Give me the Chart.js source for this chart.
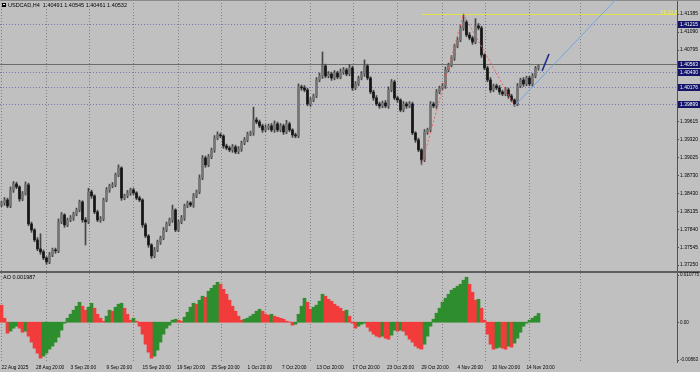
<!DOCTYPE html>
<html>
<head>
<meta charset="utf-8">
<script src="https://cdn.jsdelivr.net/npm/chart.js@4.4.0/dist/chart.umd.min.js"></script>
<style>
  html, body { margin: 0; padding: 0; background: #c0c0c0; }
  #wrap { position: relative; width: 700px; height: 372px; overflow: hidden; }
  #price { position: absolute; left: 0; top: 0; }
  #ao { position: absolute; left: 0; top: 271px; }
</style>
</head>
<body>
<div id="wrap">
  <canvas id="price" width="700" height="271"></canvas>
  <canvas id="ao" width="700" height="101"></canvas>
</div>
<script>
const SYMBOL = "USDCAD,H4";
const PIP = 0.0001;

// H4 closes, one per bar (open = previous close)
const firstOpen = 1.38240;
const closes = [
  1.38273, 1.38322, 1.38223, 1.38487, 1.38585, 1.38536, 1.38339, 1.38421, 1.38569, 1.37927,
  1.37828, 1.37663, 1.37515, 1.37466, 1.37367, 1.37301, 1.37417, 1.37499, 1.37483, 1.37960,
  1.38075, 1.37911, 1.37993, 1.38025, 1.38091, 1.38157, 1.38289, 1.37993, 1.37960, 1.38454,
  1.38388, 1.38124, 1.37993, 1.38009, 1.38322, 1.38487, 1.38552, 1.38569, 1.38734, 1.38849,
  1.38355, 1.38388, 1.38438, 1.38487, 1.38438, 1.38355, 1.38322, 1.37911, 1.37729, 1.37581,
  1.37400, 1.37499, 1.37630, 1.37696, 1.37828, 1.37927, 1.37993, 1.38157, 1.37828, 1.37960,
  1.38025, 1.38223, 1.38273, 1.38240, 1.38388, 1.38454, 1.38684, 1.39014, 1.38899, 1.39031,
  1.39146, 1.39343, 1.39393, 1.39376, 1.39211, 1.39178, 1.39146, 1.39195, 1.39113, 1.39162,
  1.39261, 1.39310, 1.39409, 1.39426, 1.39640, 1.39607, 1.39541, 1.39475, 1.39508, 1.39541,
  1.39475, 1.39574, 1.39475, 1.39541, 1.39442, 1.39574, 1.39475, 1.39393, 1.39376, 1.40183,
  1.40167, 1.40134, 1.39903, 1.39969, 1.40035, 1.40298, 1.40364, 1.40529, 1.40364, 1.40397,
  1.40331, 1.40413, 1.40347, 1.40430, 1.40463, 1.40397, 1.40496, 1.40167, 1.40232, 1.40331,
  1.40397, 1.40529, 1.40331, 1.40101, 1.40002, 1.39903, 1.39870, 1.39920, 1.39870, 1.40134,
  1.40265, 1.40002, 1.39969, 1.39804, 1.39903, 1.39870, 1.39903, 1.39426, 1.39310, 1.39146,
  1.38981, 1.39442, 1.39475, 1.39903, 1.39870, 1.40101, 1.40167, 1.40200, 1.40463, 1.40545,
  1.40661, 1.40858, 1.40957, 1.41155, 1.41254, 1.41040, 1.40990, 1.40924, 1.41188, 1.41155,
  1.40710, 1.40496, 1.40298, 1.40134, 1.40200, 1.40167, 1.40101, 1.40068, 1.40134, 1.40035,
  1.39969, 1.39903, 1.40200, 1.40298, 1.40232, 1.40331, 1.40232, 1.40364, 1.40491, 1.40532
];
// wick lengths above / below the body, in pips
const upWick = [
  3, 4, 3, 5, 4, 3, 2, 4, 5, 3,   3, 2, 4, 25, 3, 2, 4, 3, 3, 5,
  4, 2, 3, 4, 3, 3, 3, 2, 4, 6,   3, 2, 3, 4, 3, 4, 3, 4, 3, 5,
  2, 3, 4, 3, 3, 2, 3, 2, 3, 2,   2, 4, 3, 3, 4, 3, 3, 8, 2, 3,
  4, 3, 3, 2, 4, 3, 5, 4, 3, 4,   3, 4, 5, 3, 2, 3, 3, 4, 3, 4,
  3, 4, 3, 3, 21, 4, 3, 3, 5, 3,  4, 5, 3, 4, 3, 6, 3, 2, 3, 5,
  3, 4, 3, 4, 3, 4, 5, 23, 3, 4,  3, 4, 3, 5, 4, 3, 6, 3, 4, 3,
  4, 10, 3, 2, 3, 4, 3, 3, 4, 5,  4, 3, 3, 2, 4, 3, 4, 3, 2, 3,
  2, 4, 3, 4, 3, 4, 3, 4, 5, 3,   4, 3, 4, 5, 13, 3, 4, 3, 12, 4,
  3, 2, 3, 4, 3, 3, 4, 3, 4, 3,   3, 2, 4, 3, 4, 3, 3, 4, 3, 1.3
];
const dnWick = [
  3, 4, 3, 3, 4, 3, 4, 3, 2, 3,   4, 3, 3, 4, 3, 4, 3, 3, 4, 3,
  3, 4, 3, 3, 4, 3, 3, 4, 38, 3,  4, 3, 3, 4, 3, 3, 4, 3, 3, 3,
  4, 3, 3, 4, 3, 3, 3, 4, 3, 4,   4, 3, 3, 4, 3, 3, 3, 4, 3, 3,
  3, 4, 3, 3, 4, 3, 3, 3, 4, 3,   3, 4, 3, 3, 4, 3, 3, 4, 3, 3,
  4, 3, 3, 3, 4, 3, 3, 4, 3, 3,   3, 4, 3, 3, 4, 3, 3, 4, 3, 3,
  4, 3, 3, 4, 3, 3, 3, 4, 3, 3,   4, 3, 3, 3, 4, 3, 3, 4, 3, 3,
  3, 4, 3, 3, 4, 3, 4, 3, 3, 4,   3, 3, 4, 3, 3, 4, 3, 3, 4, 3,
  8, 3, 4, 3, 3, 4, 3, 3, 4, 3,   3, 4, 3, 3, 4, 3, 3, 4, 3, 3,
  4, 3, 3, 4, 3, 3, 4, 3, 3, 4,   3, 4, 3, 3, 4, 3, 3, 4, 3, 3
];

// Awesome Oscillator, one value per bar
const aoValues = [
  0.00388, 0.00091, -0.00251, -0.00205, -0.00137, -0.00091, -0.00137, -0.00228, -0.00205, -0.00319,
  -0.00456, -0.00593, -0.00707, -0.00821, -0.00775, -0.00707, -0.00616, -0.00547, -0.00456, -0.00342,
  -0.00182, -0.00023, 0.00091, 0.00182, 0.00274, 0.00365, 0.00456, 0.00365, 0.00274, 0.00342,
  0.00433, 0.00319, 0.00182, 0.00091, 0.00023, 0.00137, 0.00274, 0.00251, 0.00342, 0.00410,
  0.00433, 0.00319, 0.00182, 0.00046, 0.00091, 0.00023, -0.00091, -0.00274, -0.00502, -0.00684,
  -0.00821, -0.00775, -0.00638, -0.00456, -0.00274, -0.00137, -0.00068, 0.00046, 0.00068, 0.00045,
  0.00023, 0.00114, 0.00228, 0.00342, 0.00433, 0.00410, 0.00502, 0.00593, 0.00570, 0.00707,
  0.00775, 0.00844, 0.00912, 0.00866, 0.00752, 0.00638, 0.00502, 0.00365, 0.00251, 0.00137,
  0.00046, 0.00068, 0.00091, 0.00137, 0.00182, 0.00251, 0.00296, 0.00251, 0.00182, 0.00160,
  0.00182, 0.00137, 0.00114, 0.00091, 0.00068, 0.00023, 0.00007, -0.00068, -0.00046, 0.00182,
  0.00365, 0.00547, 0.00456, 0.00296, 0.00342, 0.00388, 0.00479, 0.00638, 0.00593, 0.00524,
  0.00479, 0.00410, 0.00365, 0.00319, 0.00251, 0.00274, 0.00137, -0.00023, -0.00137, -0.00091,
  -0.00046, -0.00023, -0.00114, -0.00205, -0.00274, -0.00319, -0.00342, -0.00319, -0.00365, -0.00388,
  -0.00296, -0.00182, -0.00205, -0.00182, -0.00205, -0.00296, -0.00388, -0.00456, -0.00547, -0.00593,
  -0.00616, -0.00502, -0.00319, -0.00091, 0.00068, 0.00205, 0.00319, 0.00456, 0.00547, 0.00638,
  0.00730, 0.00775, 0.00821, 0.00866, 0.00958, 0.01026, 0.00866, 0.00684, 0.00502, 0.00524,
  0.00319, 0.00046, -0.00274, -0.00502, -0.00616, -0.00593, -0.00570, -0.00593, -0.00616, -0.00547,
  -0.00570, -0.00479, -0.00365, -0.00228, -0.00091, -0.00023, 0.00046, 0.00091, 0.00137, 0.001987
];

// axes
const priceTicks = [1.41385, 1.41090, 1.40795, 1.39615, 1.39320, 1.39025, 1.38730, 1.38430, 1.38135, 1.37840, 1.37545, 1.37250];
const markedPrices = [1.41215, 1.40563, 1.40430, 1.40176, 1.39899];
const aoTicks = [0.010775, 0, -0.00863];
const aoTickLabels = ["0.010775", "0.00", "-0.00863"];
const gridBars = [0, 15, 29.5, 44, 59, 73.5, 88, 103, 117.5, 132, 147, 161.5, 176, 193];
const timeBars = [0, 11.5, 23, 35, 47, 58.5, 70, 82, 93.5, 105, 117, 128.5, 140, 152, 163.5, 175];
const timeLabels = ["22 Aug 2025", "28 Aug 20:00", "3 Sep 20:00", "9 Sep 20:00", "15 Sep 20:00", "19 Sep 20:00",
  "25 Sep 20:00", "1 Oct 20:00", "7 Oct 20:00", "13 Oct 20:00", "17 Oct 20:00", "23 Oct 20:00",
  "29 Oct 20:00", "4 Nov 20:00", "10 Nov 20:00", "14 Nov 20:00"];

// drawn objects
const levelLines = [1.41215, 1.40430, 1.40176, 1.39899];
const bidLine = 1.40563;
const feLevel = 1.41385, feFrom = 140;
const zigzag = [[140, 1.38901], [154, 1.41384], [171, 1.39873]];
const trendLine = [[171, 1.39873], [204, 1.41583]];
const arrowLine = [[180.2, 1.40447], [182.5, 1.40727]];

const X_MIN = -0.5, X_MAX = 225.17;
const P_MIN = 1.371512, P_MAX = 1.416156;
const AO_MIN = -0.009087, AO_MAX = 0.011232;

const opens = closes.map((c, i) => i ? closes[i - 1] : firstOpen);
const highs = closes.map((c, i) => Math.max(c, opens[i]) + upWick[i] * PIP);
const lows = closes.map((c, i) => Math.min(c, opens[i]) - dnWick[i] * PIP);
const last = closes.length - 1;

const FONT = "'Liberation Sans', Arial, sans-serif";
const GRID = "#7e7e7e";
const AXIS = "#505050";

const fmt5 = (v) => v.toFixed(5);

// squeezed text, the terminal font is narrower than Liberation Sans
function text(ctx, s, x, y, size, sx) {
  ctx.save();
  ctx.font = size + "px " + FONT;
  ctx.translate(x, y);
  ctx.scale(sx, 1);
  ctx.fillText(s, 0, 0);
  ctx.restore();
}

const pricePlugin = {
  id: "priceDecor",
  beforeDatasetsDraw(chart) {
    const { ctx, chartArea: a, scales: { y } } = chart;
    ctx.save();
    ctx.lineWidth = 1;
    ctx.strokeStyle = "#7676b8";
    ctx.setLineDash([1, 2]);
    levelLines.forEach((v) => {
      const py = Math.round(y.getPixelForValue(v)) + 0.5;
      ctx.beginPath(); ctx.moveTo(a.left, py); ctx.lineTo(a.right, py); ctx.stroke();
    });
    ctx.setLineDash([]);
    ctx.strokeStyle = "#6c6c6c";
    const by = Math.round(y.getPixelForValue(bidLine)) + 0.5;
    ctx.beginPath(); ctx.moveTo(a.left, by); ctx.lineTo(a.right, by); ctx.stroke();
    ctx.strokeStyle = "#8a8a8a";
    ctx.beginPath(); ctx.moveTo(0, 0.5); ctx.lineTo(chart.width, 0.5); ctx.stroke();
    ctx.restore();
  },
  afterDatasetsDraw(chart) {
    const { ctx, chartArea: a, scales: { x, y } } = chart;
    const px = (p) => [x.getPixelForValue(p[0]), y.getPixelForValue(p[1])];
    ctx.save();
    ctx.beginPath(); ctx.rect(a.left, a.top, a.right - a.left, a.bottom - a.top); ctx.clip();

    // FE 61.8 level
    const fy = Math.round(y.getPixelForValue(feLevel)) + 0.5;
    ctx.strokeStyle = "#e2e24a";
    ctx.lineWidth = 1;
    ctx.beginPath(); ctx.moveTo(x.getPixelForValue(feFrom), fy); ctx.lineTo(a.right, fy); ctx.stroke();
    ctx.fillStyle = "#eeee55";
    ctx.textAlign = "left"; ctx.textBaseline = "bottom";
    text(ctx, "FE 61.8", a.right - 16, fy + 1, 5.5, 0.85);

    // zigzag
    ctx.strokeStyle = "#f06060";
    ctx.setLineDash([2, 2]);
    ctx.beginPath();
    zigzag.forEach((p, i) => { const [qx, qy] = px(p); i ? ctx.lineTo(qx, qy) : ctx.moveTo(qx, qy); });
    ctx.stroke();
    ctx.setLineDash([]);

    // trend line, extended to the top edge
    const [t0x, t0y] = px(trendLine[0]);
    const [t1x, t1y] = px(trendLine[1]);
    const k = (a.top - t0y) / (t1y - t0y);
    ctx.strokeStyle = "#72a6e0";
    ctx.beginPath(); ctx.moveTo(t0x, t0y); ctx.lineTo(t0x + (t1x - t0x) * k, a.top); ctx.stroke();

    // short arrow line
    const [a0x, a0y] = px(arrowLine[0]);
    const [a1x, a1y] = px(arrowLine[1]);
    ctx.strokeStyle = "#1c2a8c";
    ctx.lineWidth = 1.6;
    ctx.beginPath(); ctx.moveTo(a0x, a0y); ctx.lineTo(a1x, a1y); ctx.stroke();
    ctx.restore();
  },
  afterDraw(chart) {
    const { ctx, chartArea: a, scales: { y } } = chart;
    ctx.save();
    ctx.textAlign = "left"; ctx.textBaseline = "middle";
    ctx.strokeStyle = AXIS; ctx.lineWidth = 1;
    priceTicks.forEach((v) => {
      const py = y.getPixelForValue(v);
      ctx.beginPath(); ctx.moveTo(a.right, Math.round(py) + 0.5); ctx.lineTo(a.right + 2, Math.round(py) + 0.5); ctx.stroke();
      ctx.fillStyle = "#000";
      text(ctx, fmt5(v), a.right + 3, py, 5.4, 0.92);
    });
    markedPrices.forEach((v) => {
      const py = y.getPixelForValue(v);
      ctx.fillStyle = "#14146a";
      ctx.fillRect(a.right + 1, Math.round(py) - 3, 22, 7);
      ctx.fillStyle = "#fff";
      text(ctx, fmt5(v), a.right + 3, py + 0.5, 5.4, 0.92);
    });
    // header
    ctx.fillStyle = "#000";
    ctx.fillRect(2, 3, 4, 4);
    ctx.fillStyle = "#fff";
    ctx.fillRect(3, 4, 2, 1);
    ctx.fillStyle = "#000";
    text(ctx, `${SYMBOL}  ${fmt5(opens[last])} ${fmt5(highs[last])} ${fmt5(lows[last])} ${fmt5(closes[last])}`, 8, 5.5, 5.5, 1);
    ctx.restore();
  }
};

const aoPlugin = {
  id: "aoDecor",
  afterDraw(chart) {
    const { ctx, chartArea: a, scales: { y, xt } } = chart;
    ctx.save();
    ctx.fillStyle = "#5e5e5e";
    ctx.fillRect(0, 0, chart.width, 2);
    ctx.textAlign = "left"; ctx.textBaseline = "middle";
    ctx.strokeStyle = AXIS; ctx.lineWidth = 1;
    aoTicks.forEach((v, i) => {
      const py = y.getPixelForValue(v);
      ctx.beginPath(); ctx.moveTo(a.right, Math.round(py) + 0.5); ctx.lineTo(a.right + 2, Math.round(py) + 0.5); ctx.stroke();
      ctx.fillStyle = "#000";
      text(ctx, aoTickLabels[i], a.right + 3, py, 5.4, 0.85);
    });
    ctx.fillStyle = "#000";
    text(ctx, "AO " + aoValues[last].toFixed(6), 3, 6, 5.5, 1);
    // time labels
    timeBars.forEach((v, i) => {
      text(ctx, timeLabels[i], xt.getPixelForValue(v), a.bottom + 5.5, 5.5, 0.86);
    });
    ctx.restore();
  }
};

const gridAxis = {
  type: "linear", min: X_MIN, max: X_MAX, offset: false,
  afterBuildTicks: (ax) => { ax.ticks = gridBars.map((v) => ({ value: v })); },
  ticks: { display: false },
  grid: { color: GRID, drawTicks: false, offset: false, lineWidth: 1 },
  border: { display: false, dash: [1, 2] },
  afterFit: (ax) => { ax.height = 0; }
};

new Chart(document.getElementById("price"), {
  type: "bar",
  data: {
    datasets: [
      {
        label: "wick",
        data: closes.map((c, i) => ({ x: i, y: [lows[i], highs[i]] })),
        backgroundColor: "#454545",
        barThickness: 1,
        grouped: false,
        order: 2
      },
      {
        label: "body",
        data: closes.map((c, i) => ({ x: i, y: [opens[i], c] })),
        backgroundColor: (ctx) => closes[ctx.dataIndex] >= opens[ctx.dataIndex] ? "#767676" : "#151515",
        barThickness: 2,
        minBarLength: 1,
        grouped: false,
        order: 1
      }
    ]
  },
  options: {
    responsive: false,
    animation: false,
    devicePixelRatio: 1,
    layout: { padding: 0 },
    plugins: { legend: { display: false }, tooltip: { enabled: false } },
    scales: {
      x: gridAxis,
      y: {
        type: "linear", position: "right", min: P_MIN, max: P_MAX,
        ticks: { display: false },
        grid: { display: false },
        border: { display: true, color: AXIS },
        afterFit: (ax) => { ax.width = 23; }
      }
    }
  },
  plugins: [pricePlugin]
});

new Chart(document.getElementById("ao"), {
  type: "bar",
  data: {
    datasets: [{
      label: "AO",
      data: aoValues.map((v, i) => ({ x: i, y: v })),
      backgroundColor: (ctx) => {
        const i = ctx.dataIndex;
        return i > 0 && aoValues[i] > aoValues[i - 1] ? "#2e8e2e" : "#f23b3b";
      },
      barThickness: 3,
      grouped: false
    }]
  },
  options: {
    responsive: false,
    animation: false,
    devicePixelRatio: 1,
    layout: { padding: { top: 2 } },
    plugins: { legend: { display: false }, tooltip: { enabled: false } },
    scales: {
      x: gridAxis,
      xt: {
        type: "linear", position: "bottom", min: X_MIN, max: X_MAX, offset: false,
        ticks: { display: false },
        grid: { display: false, drawTicks: false },
        border: { display: false },
        afterFit: (ax) => { ax.height = 10; }
      },
      y: {
        type: "linear", position: "right", min: AO_MIN, max: AO_MAX,
        ticks: { display: false },
        grid: { display: false },
        border: { display: true, color: AXIS },
        afterFit: (ax) => { ax.width = 23; }
      }
    }
  },
  plugins: [aoPlugin]
});
</script>
</body>
</html>
